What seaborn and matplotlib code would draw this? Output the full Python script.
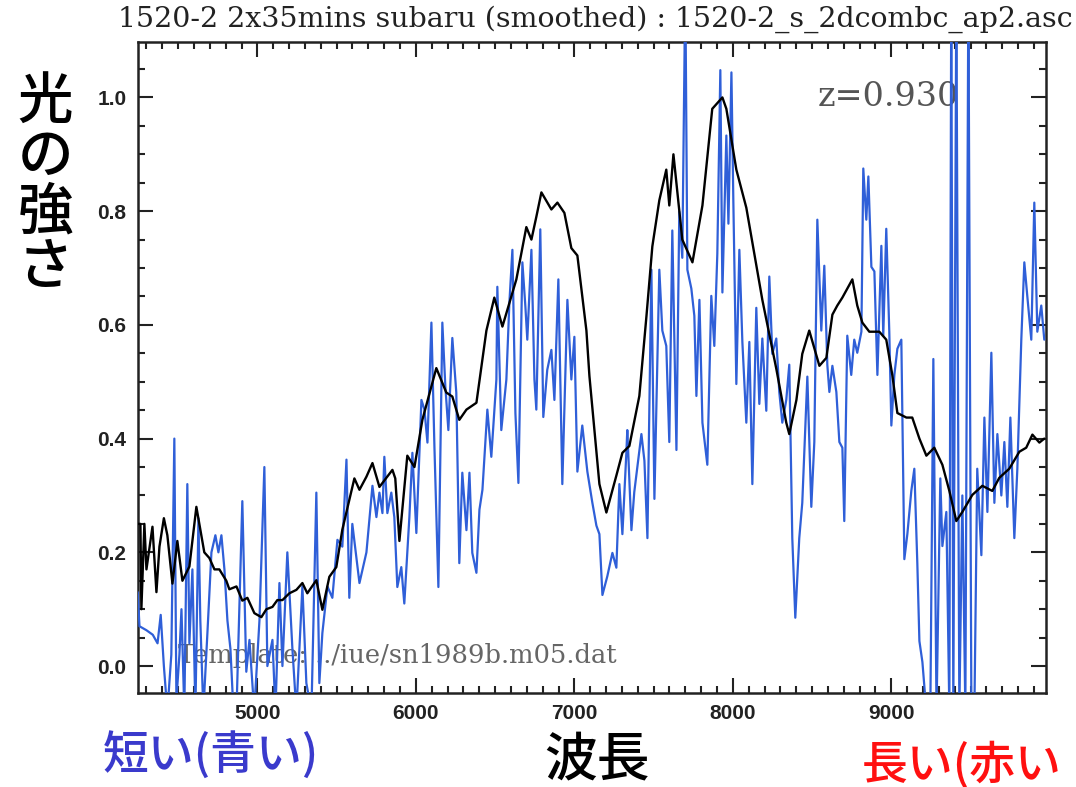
import matplotlib
matplotlib.use('Agg')
import matplotlib.pyplot as plt
from matplotlib.ticker import MultipleLocator
import pandas as pd
import seaborn as sns

# observed spectrum (blue), wavelength in A, values past the frame are clipped
obs_wave = [4245, 4256, 4300, 4340, 4370, 4390, 4410, 4432, 4457, 4476, 4489, 4508, 4521, 4539,
            4558, 4571, 4590, 4609, 4628, 4640, 4659, 4685, 4710, 4735, 4754, 4773, 4792, 4811,
            4830, 4849, 4868, 4905, 4930, 4950, 4980, 5013, 5044, 5063, 5095, 5114, 5139, 5158,
            5189, 5221, 5246, 5284, 5309, 5341, 5372, 5391, 5410, 5442, 5473, 5505, 5536, 5562,
            5580, 5599, 5644, 5688, 5726, 5751, 5770, 5789, 5801, 5820, 5845, 5864, 5883, 5908,
            5927, 5959, 5978, 6003, 6035, 6054, 6073, 6098, 6117, 6142, 6167, 6186, 6205, 6230,
            6255, 6274, 6293, 6319, 6338, 6356, 6382, 6401, 6420, 6451, 6476, 6508, 6514, 6539,
            6571, 6590, 6609, 6628, 6647, 6672, 6691, 6703, 6729, 6748, 6760, 6785, 6804, 6829,
            6855, 6874, 6899, 6924, 6956, 6981, 7000, 7019, 7050, 7082, 7113, 7139, 7158, 7177,
            7208, 7240, 7265, 7284, 7303, 7328, 7334, 7360, 7378, 7423, 7442, 7461, 7486, 7505,
            7536, 7555, 7580, 7599, 7618, 7644, 7662, 7681, 7700, 7713, 7738, 7757, 7770, 7789,
            7808, 7839, 7864, 7883, 7902, 7921, 7934, 7959, 7972, 7991, 8003, 8022, 8041, 8060,
            8085, 8104, 8123, 8148, 8167, 8186, 8211, 8230, 8249, 8274, 8293, 8312, 8337, 8356,
            8375, 8394, 8419, 8438, 8470, 8495, 8514, 8533, 8558, 8577, 8596, 8609, 8628, 8653,
            8672, 8691, 8703, 8722, 8747, 8766, 8785, 8811, 8823, 8842, 8855, 8874, 8893, 8912,
            8937, 8949, 8968, 8987, 9000, 9019, 9038, 9063, 9082, 9101, 9126, 9145, 9164, 9177,
            9196, 9221, 9246, 9265, 9285, 9309, 9322, 9347, 9366, 9378, 9391, 9410, 9429, 9448,
            9467, 9486, 9505, 9524, 9542, 9568, 9587, 9606, 9631, 9650, 9669, 9694, 9713, 9732,
            9751, 9776, 9795, 9820, 9839, 9858, 9883, 9902, 9921, 9946, 9965]
obs_flux = [0.13, 0.07, 0.063, 0.055, 0.04, 0.09, 0.0, -0.08, 0.02, 0.40, -0.06, 0.02, 0.10, -0.08,
            0.32, 0.04, 0.17, -0.08, 0.26, 0.08, -0.08, 0.06, 0.20, 0.23, 0.20, 0.23, 0.17, 0.08,
            0.03, -0.08, -0.08, 0.29, -0.01, 0.046, -0.08, 0.08, 0.35, 0.0, 0.046, -0.08, 0.146, 0.0,
            0.20, 0.03, -0.08, 0.14, -0.03, -0.08, 0.305, -0.03, 0.058, 0.14, 0.12, 0.222, 0.21, 0.363,
            0.12, 0.25, 0.146, 0.20, 0.317, 0.262, 0.305, 0.269, 0.368, 0.269, 0.305, 0.262, 0.139, 0.174,
            0.11, 0.262, 0.375, 0.234, 0.468, 0.451, 0.393, 0.604, 0.386, 0.139, 0.604, 0.491, 0.415, 0.577,
            0.481, 0.181, 0.340, 0.239, 0.340, 0.199, 0.164, 0.275, 0.310, 0.451, 0.368, 0.504, 0.667, 0.415,
            0.504, 0.639, 0.732, 0.445, 0.322, 0.710, 0.632, 0.574, 0.732, 0.504, 0.451, 0.768, 0.438, 0.521,
            0.556, 0.468, 0.680, 0.32, 0.644, 0.504, 0.579, 0.342, 0.423, 0.342, 0.288, 0.247, 0.232, 0.125,
            0.158, 0.199, 0.173, 0.320, 0.232, 0.375, 0.415, 0.239, 0.306, 0.408, 0.361, 0.225, 0.697, 0.294,
            0.697, 0.590, 0.563, 0.394, 0.766, 0.380, 0.799, 0.718, 1.2, 0.697, 0.664, 0.616, 0.475, 0.644,
            0.428, 0.354, 0.651, 0.563, 0.725, 1.048, 0.657, 0.933, 0.778, 1.044, 0.819, 0.496, 0.732, 0.570,
            0.428, 0.570, 0.320, 0.630, 0.461, 0.576, 0.449, 0.685, 0.549, 0.576, 0.482, 0.428, 0.468, 0.530,
            0.225, 0.085, 0.225, 0.287, 0.509, 0.28, 0.394, 0.785, 0.590, 0.704, 0.530, 0.482, 0.528, 0.482,
            0.394, 0.384, 0.255, 0.581, 0.512, 0.574, 0.551, 0.588, 0.875, 0.785, 0.861, 0.702, 0.694, 0.512,
            0.739, 0.581, 0.769, 0.588, 0.423, 0.512, 0.558, 0.574, 0.188, 0.232, 0.308, 0.347, 0.180, 0.044,
            0.007, -0.08, -0.08, 0.54, -0.08, 0.33, 0.211, 0.271, -0.08, 1.2, -0.08, 1.2, -0.08, 0.30,
            -0.08, 1.2, -0.08, -0.08, 0.347, 0.195, 0.437, 0.271, 0.551, 0.287, 0.408, 0.30, 0.394, 0.28,
            0.437, 0.225, 0.347, 0.574, 0.71, 0.65, 0.574, 0.815, 0.588, 0.634, 0.574]

# template spectrum (black)
tmpl_wave = [4245, 4262, 4268, 4287, 4300, 4338, 4363, 4382, 4410, 4432, 4464, 4495, 4527, 4571,
             4615, 4634, 4665, 4697, 4729, 4760, 4804, 4823, 4868, 4905, 4937, 4981, 5025, 5057,
             5095, 5126, 5158, 5202, 5246, 5284, 5315, 5372, 5410, 5454, 5498, 5536, 5580, 5612,
             5644, 5688, 5726, 5770, 5852, 5870, 5896, 5946, 5991, 6041, 6129, 6192, 6230, 6274,
             6319, 6382, 6445, 6495, 6546, 6634, 6697, 6729, 6760, 6792, 6855, 6893, 6937, 6981,
             7019, 7076, 7095, 7158, 7202, 7265, 7303, 7347, 7410, 7455, 7492, 7536, 7580, 7599,
             7625, 7681, 7745, 7808, 7870, 7934, 7959, 8022, 8085, 8123, 8186, 8274, 8337, 8356,
             8401, 8438, 8482, 8546, 8590, 8628, 8659, 8691, 8754, 8785, 8817, 8861, 8924, 8968,
             9006, 9038, 9095, 9132, 9177, 9221, 9271, 9322, 9366, 9410, 9448, 9511, 9574, 9637,
             9681, 9744, 9808, 9851, 9890, 9934, 9965]
tmpl_flux = [0.25, 0.25, 0.10, 0.25, 0.17, 0.245, 0.13, 0.21, 0.26, 0.23, 0.145, 0.22, 0.15, 0.175,
             0.28, 0.25, 0.20, 0.19, 0.17, 0.17, 0.15, 0.135, 0.14, 0.115, 0.12, 0.093, 0.086, 0.10,
             0.104, 0.116, 0.116, 0.128, 0.134, 0.146, 0.128, 0.151, 0.099, 0.157, 0.174, 0.24, 0.292, 0.33,
             0.31, 0.333, 0.357, 0.315, 0.345, 0.33, 0.22, 0.37, 0.35, 0.433, 0.524, 0.481, 0.474, 0.433,
             0.451, 0.463, 0.59, 0.648, 0.597, 0.680, 0.772, 0.75, 0.79, 0.833, 0.803, 0.815, 0.797, 0.735,
             0.722, 0.59, 0.51, 0.32, 0.27, 0.335, 0.375, 0.387, 0.475, 0.616, 0.738, 0.819, 0.873, 0.81,
             0.90, 0.75, 0.71, 0.81, 0.98, 1.0, 0.98, 0.873, 0.806, 0.745, 0.644, 0.523, 0.428, 0.408,
             0.468, 0.549, 0.59, 0.528, 0.542, 0.618, 0.634, 0.648, 0.68, 0.634, 0.604, 0.588, 0.588, 0.574,
             0.512, 0.445, 0.437, 0.437, 0.40, 0.37, 0.384, 0.354, 0.308, 0.255, 0.271, 0.301, 0.317, 0.308,
             0.331, 0.347, 0.377, 0.384, 0.407, 0.393, 0.40]

title = '1520-2 2x35mins subaru (smoothed) : 1520-2_s_2dcombc_ap2.asc'
x_ticks = [5000, 6000, 7000, 8000, 9000]
y_ticks = [0.0, 0.2, 0.4, 0.6, 0.8, 1.0]

obs = pd.DataFrame({'wave': obs_wave, 'flux': obs_flux})
tmpl = pd.DataFrame({'wave': tmpl_wave, 'flux': tmpl_flux})

sns.set_style('ticks')
plt.rcParams['font.family'] = ['Noto Sans CJK JP', 'DejaVu Sans']

fig = plt.figure(figsize=(10.76, 7.87), dpi=100)
ax = fig.add_axes([0.128, 0.119, 0.844, 0.828])

sns.lineplot(x='wave', y='flux', data=obs, color='#2f5fd8', linewidth=1.6,
             estimator=None, sort=False, ax=ax, zorder=3)
sns.lineplot(x='wave', y='flux', data=tmpl, color='black', linewidth=1.7,
             estimator=None, sort=False, ax=ax, zorder=4)

ax.set_xlim(4245, 9975)
ax.set_ylim(-0.048, 1.098)
ax.set_xticks(x_ticks)
ax.set_yticks(y_ticks)
ax.set_xticklabels([str(v) for v in x_ticks], fontfamily='Liberation Sans', fontweight='bold', fontsize=15)
ax.set_yticklabels(['%.1f' % v for v in y_ticks], fontfamily='Liberation Sans', fontweight='bold', fontsize=15)
ax.xaxis.set_minor_locator(MultipleLocator(100))
ax.yaxis.set_minor_locator(MultipleLocator(0.05))
ax.tick_params(which='both', direction='in', top=True, right=True, width=1.5, colors='#222222')
ax.tick_params(which='major', length=11, pad=8)
ax.tick_params(which='minor', length=5)
for s in ax.spines.values():
    s.set_linewidth(1.8)
    s.set_color('#222222')
ax.set_xlabel('')
ax.set_ylabel('')

ax.text(0.749, 0.915, 'z=0.930', transform=ax.transAxes, fontsize=24,
        family='DejaVu Serif', color='#555555', va='center', ha='left', zorder=2)
ax.text(0.044, 0.058, 'Template: ../iue/sn1989b.m05.dat', transform=ax.transAxes,
        fontsize=18.5, family='DejaVu Serif', color='#666666', va='center', ha='left', zorder=2)

fig.text(0.553, 0.975, title, family='DejaVu Serif', fontsize=20.5, ha='center', va='center',
         color='#222222')

fig.text(0.042, 0.765, '光\nの\n強\nさ', fontsize=40, ha='center', va='center',
         linespacing=0.98, color='black', fontweight='medium')
fig.text(0.196, 0.041, '短い(青い)', fontsize=33, ha='center', va='center', color='#3a3acc',
         fontweight='medium')
fig.text(0.555, 0.034, '波長', fontsize=38, ha='center', va='center', color='black',
         fontweight='medium')
fig.text(0.801, 0.028, '長い(赤い', fontsize=33, ha='left', va='center', color='#ff1010',
         fontweight='medium')

fig.savefig('out.png', dpi=100)
